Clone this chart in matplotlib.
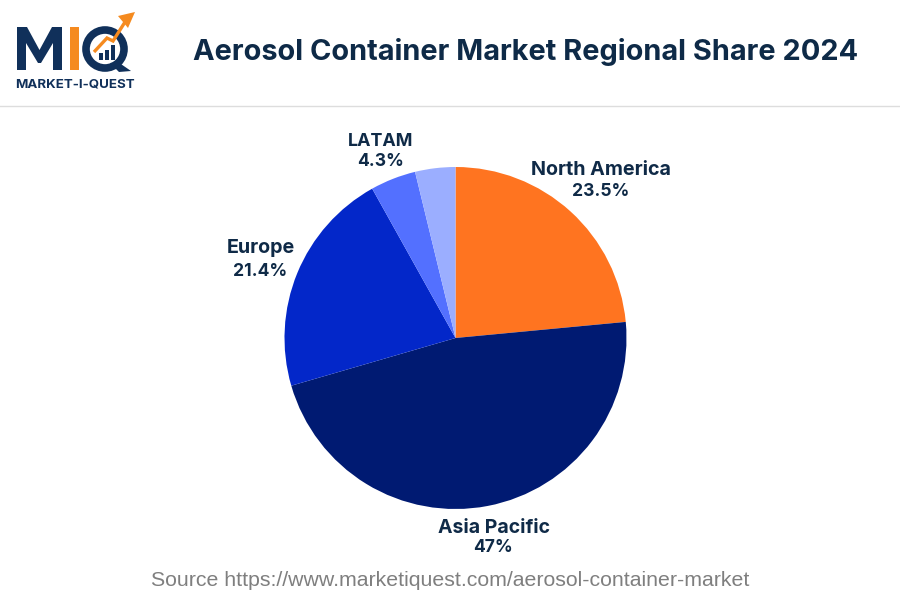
import matplotlib
matplotlib.use("Agg")
import matplotlib.pyplot as plt
from matplotlib.patches import Rectangle, Polygon, Circle
from matplotlib.lines import Line2D

regions = ["North America", "Asia Pacific", "Europe", "LATAM", "Middle East & Africa"]
shares = [23.5, 47, 21.4, 4.3, 3.8]
colors = ["#FF7420", "#001A72", "#0327C9", "#5370FF", "#9BAEFF"]
label_names = ["North America", "Asia Pacific", "Europe", "LATAM"]
label_values = ["23.5%", "47%", "21.4%", "4.3%"]

TITLE = "Aerosol Container Market Regional Share 2024"
SOURCE = "Source https://www.marketiquest.com/aerosol-container-market"
INK = "#0F2A47"
NAVY = "#10305A"
ORANGE = "#F58A1F"

W, H = 900, 600
fig = plt.figure(figsize=(9, 6), dpi=100, facecolor="white")
px = fig.add_axes([0, 0, 1, 1])
px.set_xlim(0, W)
px.set_ylim(H, 0)
px.axis("off")

cx, cy, r = 455.5, 338, 171
ax = fig.add_axes([(cx - r) / W, 1 - (cy + r) / H, 2 * r / W, 2 * r / H])
ax.pie(shares, colors=colors, startangle=90, counterclock=False, radius=1,
       wedgeprops={"linewidth": 0})
ax.set_xlim(-1, 1)
ax.set_ylim(-1, 1)
ax.set_zorder(1)

name_pos = [(601, 170, 14.2), (493.5, 528, 14.0), (260.5, 248, 14.2), (381, 141, 12.9)]
value_pos = [(600.5, 191, 12.6), (493.5, 548, 12.6), (260, 271, 12.6), (381, 161, 12.6)]
for name, (x, y, fs) in zip(label_names, name_pos):
    px.text(x, y, name, ha="center", va="center", fontsize=fs, fontweight="bold",
            family="Inter", color=INK, zorder=5)
for val, (x, y, fs) in zip(label_values, value_pos):
    px.text(x, y, val, ha="center", va="center", fontsize=fs, fontweight="bold",
            family="Inter", color=INK, zorder=5)

px.text(525.5, 52, TITLE, ha="center", va="center", fontsize=20.85, fontweight="bold",
        family="Inter", color="#0E2A47")
px.text(450, 580, SOURCE, ha="center", va="center", fontsize=15.35,
        family="Liberation Sans", color="#7F7F7F")
px.add_line(Line2D([0, W], [106, 106], color="#DDDDDD", lw=1))

# logo
px.add_patch(Polygon([(17, 70), (17, 27), (27, 27), (39.5, 50), (52, 27), (62, 27), (62, 70),
                      (53, 70), (53, 43), (41, 63), (38, 63), (26, 43), (26, 70)],
                     closed=True, color=NAVY, lw=0))
px.add_patch(Rectangle((70, 27), 8.5, 43, color=ORANGE, lw=0))
px.add_patch(Circle((105, 49), 19, fill=False, ec=NAVY, lw=5.5))
px.add_patch(Polygon([(110, 63), (118, 62), (131, 71), (119, 72)], closed=True, color=NAVY, lw=0))
for x, y0 in [(99, 53), (105, 50), (111, 45)]:
    px.add_patch(Rectangle((x, y0), 3.6, 60 - y0, color=NAVY, lw=0))
px.plot([94, 107, 113, 125], [52, 38, 41, 22], color=ORANGE, lw=2.4,
        solid_capstyle="butt", solid_joinstyle="miter", zorder=4)
px.add_patch(Polygon([(135, 12), (118, 16), (128, 28)], closed=True, color=ORANGE, lw=0, zorder=4))
px.text(15.5, 84.5, "MARKET-I-QUEST", ha="left", va="center", fontsize=9.6, fontweight="bold",
        family="Inter", color=NAVY)

fig.savefig("out.png", dpi=100, facecolor="white")
